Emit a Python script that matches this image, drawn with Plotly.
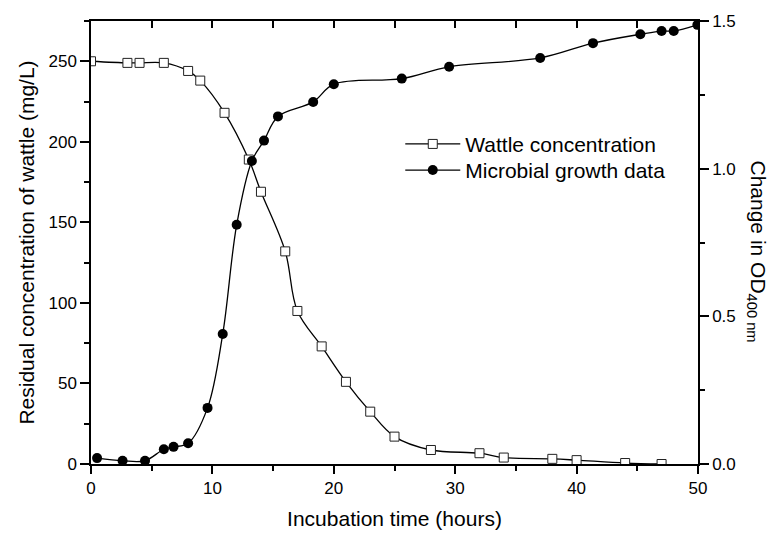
import plotly.graph_objects as go

# Residual wattle concentration (mg/L) over incubation time (h)
time_wattle = [0, 3, 4, 6, 8, 9, 11, 13, 14, 16, 17, 19, 21, 23, 25, 28, 32, 34, 38, 40, 44, 47]
wattle_conc = [250, 249, 249, 249, 244, 238, 218, 189, 169, 132, 95, 73, 51, 32.5, 17, 8.7,
               6.7, 4, 3.2, 2.4, 0.6, 0]

# Microbial growth, change in OD at 400 nm
time_growth = [0.5, 2.6, 4.45, 6.0, 6.8, 8.0, 9.6, 10.85, 12.0, 13.25, 14.25, 15.4, 18.3,
               20.0, 25.6, 29.5, 37.0, 41.35, 45.25, 47.0, 48.0, 49.95]
growth_od = [0.02, 0.011, 0.011, 0.05, 0.058, 0.07, 0.19, 0.44, 0.81, 1.026, 1.095, 1.177,
             1.226, 1.286, 1.305, 1.345, 1.375, 1.425, 1.455, 1.466, 1.466, 1.487]

FONT = "Liberation Sans, Arial, sans-serif"

fig = go.Figure()

fig.add_trace(go.Scatter(
    x=time_wattle, y=wattle_conc, name="Wattle concentration",
    mode="lines+markers",
    line=dict(color="black", width=1.3, shape="spline", smoothing=1),
    marker=dict(symbol="square", size=9, color="white", line=dict(color="#222", width=1)),
    xaxis="x", yaxis="y", legend="legend",
))

fig.add_trace(go.Scatter(
    x=time_growth, y=growth_od, name="Microbial growth data",
    mode="lines+markers",
    line=dict(color="black", width=1.3, shape="spline", smoothing=1),
    marker=dict(symbol="circle", size=10, color="black"),
    xaxis="x", yaxis="y2", legend="legend2",
))

# empty trace so the top frame axis gets drawn
fig.add_trace(go.Scatter(x=[], y=[], xaxis="x2", yaxis="y", showlegend=False, hoverinfo="skip"))

axis_common = dict(
    showline=True, linecolor="black", linewidth=1.5,
    showgrid=False, zeroline=False,
    tickcolor="black", tickwidth=1.5,
    tickfont=dict(family=FONT, size=17, color="black"),
)

legend_common = dict(
    xanchor="left", yanchor="top",
    bgcolor="rgba(0,0,0,0)", borderwidth=0,
    font=dict(family=FONT, size=21, color="black"),
    itemwidth=55,
)

fig.update_layout(
    width=770, height=539,
    margin=dict(l=91, r=72, t=17, b=70),
    paper_bgcolor="white", plot_bgcolor="white",
    font=dict(family=FONT, color="black"),
    showlegend=True,
    legend=dict(**legend_common, x=0.5095, y=0.768),
    legend2=dict(**legend_common, x=0.5095, y=0.709),
    xaxis=dict(
        **axis_common, range=[0, 50], dtick=10, tick0=0,
        ticks="outside", ticklen=8,
        minor=dict(ticks="outside", ticklen=5, dtick=5, tickcolor="black", tickwidth=1.5),
        title=dict(text="Incubation time (hours)", font=dict(family=FONT, size=21), standoff=14),
    ),
    xaxis2=dict(
        overlaying="x", side="top", anchor="y", range=[0, 50],
        showline=True, linecolor="black", linewidth=1.5,
        showgrid=False, zeroline=False, showticklabels=False,
        ticks="inside", ticklen=7, dtick=5, tick0=0, tickcolor="black", tickwidth=1.5,
    ),
    yaxis=dict(
        **axis_common, range=[0, 275], dtick=50, tick0=0,
        ticks="outside", ticklen=9,
        minor=dict(ticks="outside", ticklen=5, dtick=25, tickcolor="black", tickwidth=1.5),
        title=dict(text="Residual concentration of wattle (mg/L)",
                   font=dict(family=FONT, size=21), standoff=8),
    ),
    yaxis2=dict(
        **axis_common, overlaying="y", side="right", anchor="x",
        range=[0, 1.5], dtick=0.5, tick0=0, tickformat=".1f",
        ticks="outside", ticklen=9,
        minor=dict(ticks="outside", ticklen=5, dtick=0.25, tickcolor="black", tickwidth=1.5),
    ),
    annotations=[dict(
        text="Change in OD<sub>400 nm</sub>",
        xref="paper", yref="paper", x=1.097, y=0.48,
        xanchor="center", yanchor="middle", textangle=90, showarrow=False,
        font=dict(family=FONT, size=21, color="black"),
    )],
)

fig.write_html("out.html")
